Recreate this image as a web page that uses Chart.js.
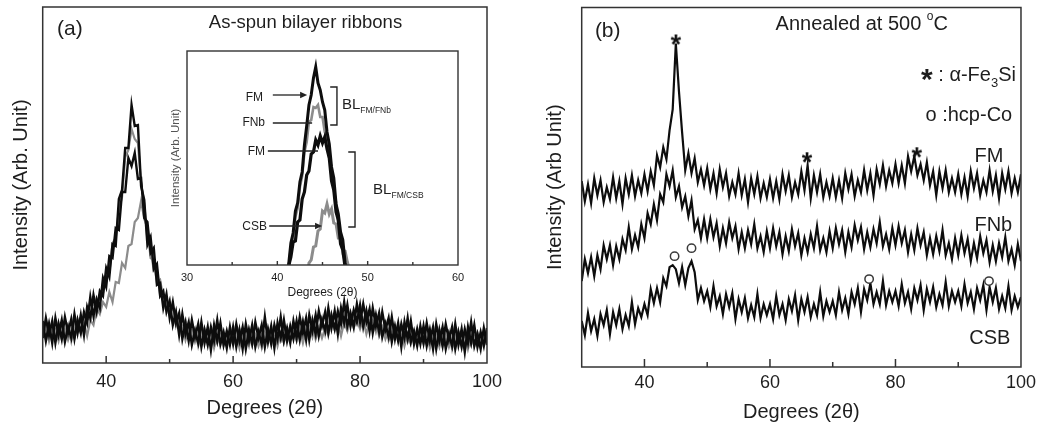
<!DOCTYPE html>
<html>
<head>
<meta charset="utf-8">
<script src="https://cdn.jsdelivr.net/npm/chart.js@4.4.1/dist/chart.umd.min.js"></script>
<style>
html,body{margin:0;padding:0;background:#fff;}
#wrap{position:relative;width:1041px;height:427px;background:#fff;overflow:hidden;}
canvas{position:absolute;display:block;}
</style>
</head>
<body>
<div id="wrap">
<canvas id="ca" width="520" height="427" style="left:0;top:0;"></canvas>
<canvas id="cb" width="521" height="427" style="left:520px;top:0;"></canvas>
<canvas id="ci" width="330" height="270" style="left:150px;top:40px;"></canvas>
</div>
<script>
// ---------- DATA (intensities in arbitrary units) ----------
const twoTheta = [30,30.5,31,31.5,32,32.5,33,33.5,34,34.5,35,35.5,36,36.5,37,37.5,38,38.5,39,39.5,
40,40.5,41,41.5,42,42.5,43,43.5,44,44.5,45,45.5,46,46.5,47,47.5,48,48.5,49,49.5,
50,50.5,51,51.5,52,52.5,53,53.5,54,54.5,55,55.5,56,56.5,57,57.5,58,58.5,59,59.5,
60,60.5,61,61.5,62,62.5,63,63.5,64,64.5,65,65.5,66,66.5,67,67.5,68,68.5,69,69.5,
70,70.5,71,71.5,72,72.5,73,73.5,74,74.5,75,75.5,76,76.5,77,77.5,78,78.5,79,79.5,
80,80.5,81,81.5,82,82.5,83,83.5,84,84.5,85,85.5,86,86.5,87,87.5,88,88.5,89,89.5,
90,90.5,91,91.5,92,92.5,93,93.5,94,94.5,95,95.5,96,96.5,97,97.5,98,98.5,99,99.5,100];

// (a) as-spun bilayer ribbons
const fmA1 = [42,22,39,20,45,28,43,21,36,25,49,30,48,28,56,45,68,51,72,67,
95,86,119,117,164,173,215,215,258,237,238,177,163,118,126,94,99,67,72,51,
62,38,51,28,49,29,41,18,32,20,41,20,36,13,38,22,40,18,32,18,
36,16,33,14,39,22,38,16,31,19,46,21,37,15,40,25,43,22,37,24,
42,23,41,23,48,32,48,27,43,32,55,35,52,29,55,40,58,37,53,41,
58,36,52,32,55,37,50,26,39,26,46,24,40,16,41,24,42,19,34,19,
37,17,33,14,39,22,36,14,29,17,39,18,34,11,36,20,38,16,31,17,35];
const fmA2 = [25,45,28,42,20,39,24,46,30,44,24,43,30,51,40,66,47,64,55,85,
76,107,105,135,133,171,171,205,197,210,184,185,145,141,110,115,78,80,55,69,
45,61,40,50,24,40,22,43,26,39,16,33,18,36,22,43,19,31,15,36,
19,39,22,36,14,33,19,41,25,38,16,34,19,38,24,46,22,35,20,42,
25,46,30,45,23,43,29,52,37,51,30,48,34,52,39,61,37,50,36,59,
41,59,41,54,30,48,31,51,33,45,21,37,22,39,25,45,21,32,17,37,
20,40,22,36,14,33,17,39,23,36,14,31,16,34,20,41,17,29,14,35,18];
const fnbA = [34,24,39,26,33,22,36,28,38,22,38,32,44,33,45,43,63,52,68,70,
89,90,120,125,153,166,206,213,234,224,220,180,159,123,115,92,94,68,68,54,
54,40,51,34,37,23,34,25,34,17,30,22,32,18,27,20,35,18,28,21,
28,18,33,20,27,17,31,23,33,16,30,23,33,20,29,23,38,23,33,27,
34,25,41,29,36,26,41,34,45,29,44,37,48,34,44,38,53,38,49,44,
50,38,52,38,43,31,43,33,41,23,35,26,36,21,30,22,37,20,30,22,
29,19,33,20,27,16,29,21,31,14,28,20,30,16,25,18,33,17,27,20,27];
const csbA = [26,37,22,35,27,39,24,34,23,33,25,39,30,40,27,43,38,55,49,61,
56,71,61,81,80,100,95,117,119,141,145,162,144,135,105,103,80,83,65,65,
50,56,37,46,34,43,25,33,21,30,21,34,23,31,15,28,18,30,20,28,
19,30,15,28,20,33,18,28,17,28,20,33,23,31,17,30,20,33,23,31,
22,34,20,33,26,39,24,35,25,35,28,42,33,41,27,41,32,45,35,43,
34,44,29,41,32,43,27,36,24,33,23,35,25,32,17,29,19,31,21,28,
19,30,15,28,20,32,17,27,16,26,18,31,21,29,14,27,17,30,20,28,19];

// (b) annealed at 500 C
const fmB = [186,166,183,164,189,172,187,165,180,168,190,169,186,163,189,173,192,171,187,174,
193,176,196,182,212,200,220,208,237,258,324,276,235,197,214,194,209,185,198,182,
199,178,194,174,198,180,194,171,185,173,194,172,188,165,189,173,191,169,184,170,
188,169,186,168,193,176,192,170,185,173,196,177,202,169,192,175,193,170,185,171,
189,170,187,169,194,178,193,171,187,175,197,177,194,172,198,183,202,181,197,184,
203,184,202,184,211,196,211,192,203,187,205,182,196,172,196,179,197,175,189,175,
193,173,190,171,196,179,194,172,187,175,197,176,192,169,194,178,196,174,189,175,193];
const fnbB = [86,108,94,110,91,112,98,122,108,122,102,121,108,128,117,140,118,132,120,143,
129,154,143,163,147,173,165,193,181,197,170,181,160,171,151,167,138,147,129,148,
129,148,130,144,121,139,124,145,129,141,118,135,119,137,123,143,119,131,115,136,
119,139,121,135,113,131,116,138,121,134,112,129,115,133,119,141,117,129,115,136,
119,139,123,137,115,135,120,142,127,140,118,135,120,138,124,145,121,133,118,139,
122,141,124,137,115,133,117,139,122,135,112,129,113,131,116,137,112,124,108,129,
112,132,114,128,106,124,109,131,114,127,105,122,106,124,110,130,106,118,102,123,106];
const csbB = [46,32,54,36,48,31,53,42,57,33,55,42,58,38,52,41,65,43,59,50,
63,52,78,64,79,65,89,81,100,102,98,84,100,82,99,106,95,67,79,66,
76,60,81,61,71,53,73,60,74,48,68,55,69,49,62,50,73,49,63,52,
63,48,71,52,63,47,68,56,72,47,68,55,70,50,63,52,75,51,66,55,
66,52,75,57,69,53,75,63,79,55,78,67,84,63,75,63,86,62,76,65,
76,61,83,64,75,58,79,67,82,57,78,65,80,60,73,62,85,61,76,65,
76,61,83,64,75,58,79,67,82,57,80,65,79,58,71,59,81,57,71,60,70];

// phase markers in (b)
const fe3SiPeaks = [45, 65.9, 83.4];
const fe3SiMarkY = [330, 212, 217];
const hcpCoPeaks = [44.8, 47.5, 75.8, 94.9];
const hcpCoMarkY = [111, 119, 88, 86];

// inset of (a): zoom on the main peak
const insetTheta = [41,41.25,41.5,41.75,42,42.25,42.5,42.75,43,43.25,43.5,43.75,44,44.25,44.5,
44.75,45,45.25,45.5,45.75,46,46.25,46.5,46.75,47,47.25,47.5,47.75,48];
const insetFM1 = [-30,0,22,32,54,62,83,93,120,139,160,170,187,198,182,175,163,155,133,121,98,87,61,51,33,25,2,-10,-30];
const insetFNb = [-30,-4,18,27,48,57,78,89,113,123,143,145,158,157,160,148,148,133,128,107,98,75,63,41,30,11,4,-12,-30];
const insetFM2 = [-30,-1,8,23,24,43,45,66,73,90,94,111,113,125,120,129,122,128,116,107,84,75,53,45,21,15,-2,-9,-30];
const insetCSB = [-30,-30,-30,-30,-30,-30,-30,-30,-30,-30,2,5,18,19,34,36,54,52,61,51,56,42,41,27,27,15,14,3,-5];

// tick labels
const mainTickLabels = [40, 60, 80, 100];
const mainMajorTicks = [40, 60, 80];
const mainMinorTicks = [50, 70, 90];
const insetTickLabels = [30, 40, 50, 60];
const insetMajorTicks = [40, 50];
const insetMinorTicks = [35, 45, 55];

// ---------- STYLE ----------
const FONT = "'Liberation Sans', Arial, Helvetica, sans-serif";
const TEXT = '#1e1e1e';
const BLACK = '#0d0d0d';
const GRAY = '#8c8c8c';
const FRAME = '#333333';

// asterisk marker glyph (like the figure's "*" symbol)
const starGlyph = (function () {
  const c = document.createElement('canvas');
  c.width = 18; c.height = 18;
  const g = c.getContext('2d');
  g.fillStyle = '#111';
  g.font = 'bold 27px ' + FONT;
  g.textAlign = 'center';
  g.textBaseline = 'alphabetic';
  g.fillText('*', 9, 9 + 0.58 * 27);
  return c;
})();

function series(xs, ys, color, width) {
  return {
    data: xs.map((x, i) => ({x: x, y: ys[i]})),
    borderColor: color, backgroundColor: color, borderWidth: width,
    pointRadius: 0, tension: 0, fill: false, clip: 0
  };
}
function markers(xs, ys, style, radius, fillColor) {
  return {
    data: xs.map((x, i) => ({x: x, y: ys[i]})),
    showLine: false, pointStyle: style, pointRadius: radius,
    borderColor: '#3a3a3a', backgroundColor: fillColor, borderWidth: 1.5, clip: false
  };
}

function baseOptions(o) {
  return {
    responsive: false, animation: false, devicePixelRatio: 1,
    layout: {padding: {left: 0, right: o.padRight, top: o.padTop, bottom: 0}},
    plugins: {legend: {display: false}, tooltip: {enabled: false}},
    scales: {
      x: {
        type: 'linear', min: o.xMin, max: o.xMax,
        afterFit: s => { s.height = o.xHeight; },
        grid: {display: false, drawTicks: false}, border: {display: false},
        ticks: {stepSize: o.xStep, autoSkip: false, maxRotation: 0, padding: o.xTickPad, color: TEXT,
                font: {family: FONT, size: o.tickSize},
                callback: v => o.xLabels.includes(v) ? String(v) : ''},
        title: {display: true, text: o.xTitle, color: TEXT, font: {family: FONT, size: o.xTitleSize},
                padding: {top: 0, bottom: o.xTitlePad}}
      },
      y: {
        type: 'linear', min: 0, max: o.yMax,
        afterFit: s => { s.width = o.yWidth; },
        grid: {display: false, drawTicks: false}, border: {display: false},
        ticks: {display: false},
        title: {display: true, text: o.yTitle, color: o.yTitleColor || TEXT, font: {family: FONT, size: o.yTitleSize},
                padding: {top: o.yTitlePad, bottom: 0}}
      }
    }
  };
}

function framePlugin(cfg) {
  return {
    id: 'frame',
    beforeDraw(chart) {
      if (!cfg.fill) return;
      const {ctx, chartArea: a} = chart;
      ctx.save();
      ctx.fillStyle = cfg.fill;
      ctx.fillRect(a.left, a.top, a.right - a.left, a.bottom - a.top);
      ctx.restore();
    },
    afterDatasetsDraw(chart) {
      const {ctx, chartArea: a, scales: {x}} = chart;
      ctx.save();
      ctx.strokeStyle = cfg.color;
      ctx.lineWidth = cfg.width;
      ctx.beginPath();
      cfg.major.forEach(v => { const p = x.getPixelForValue(v); ctx.moveTo(p, a.bottom); ctx.lineTo(p, a.bottom - cfg.majorLen); });
      cfg.minor.forEach(v => { const p = x.getPixelForValue(v); ctx.moveTo(p, a.bottom); ctx.lineTo(p, a.bottom - cfg.minorLen); });
      ctx.stroke();
      ctx.strokeRect(a.left, a.top, a.right - a.left, a.bottom - a.top);
      ctx.restore();
    }
  };
}

function drawRich(ctx, px, py, it) {
  const base = it.size;
  const parts = it.parts.map(p => {
    const s = p.size || base;
    ctx.font = (p.bold ? 'bold ' : '') + s + 'px ' + FONT;
    return Object.assign({}, p, {s: s, w: ctx.measureText(p.t).width});
  });
  const total = parts.reduce((acc, p) => acc + p.w, 0);
  let cx = it.align === 'right' ? px - total : (it.align === 'center' ? px - total / 2 : px);
  ctx.textBaseline = 'middle';
  ctx.textAlign = 'left';
  ctx.fillStyle = it.color || TEXT;
  parts.forEach(p => {
    ctx.font = (p.bold ? 'bold ' : '') + p.s + 'px ' + FONT;
    let dy = p.dy || 0;
    if (p.sub) dy += base * 0.38;
    if (p.sup) dy -= base * 0.42;
    ctx.fillText(p.t, cx, py + dy);
    cx += p.w;
  });
}

function notesPlugin(items) {
  return {
    id: 'notes',
    afterDraw(chart) {
      const {ctx, scales: {x, y}} = chart;
      ctx.save();
      items.forEach(it => {
        if (it.type === 'line') {
          const x1 = x.getPixelForValue(it.x1), x2 = x.getPixelForValue(it.x2);
          const y1 = y.getPixelForValue(it.y1), y2 = y.getPixelForValue(it.y2);
          ctx.strokeStyle = '#222'; ctx.fillStyle = '#222'; ctx.lineWidth = 1.3;
          ctx.beginPath(); ctx.moveTo(x1, y1); ctx.lineTo(it.arrow ? x2 - 5 : x2, y2); ctx.stroke();
          if (it.arrow) {
            ctx.beginPath(); ctx.moveTo(x2, y2); ctx.lineTo(x2 - 7, y2 - 3.2); ctx.lineTo(x2 - 7, y2 + 3.2); ctx.closePath(); ctx.fill();
          }
        } else if (it.type === 'bracket') {
          const bx = x.getPixelForValue(it.x), sx = x.getPixelForValue(it.serif);
          const y1 = y.getPixelForValue(it.y1), y2 = y.getPixelForValue(it.y2);
          ctx.strokeStyle = '#222'; ctx.lineWidth = 1.4;
          ctx.beginPath();
          ctx.moveTo(sx, y1); ctx.lineTo(bx, y1); ctx.lineTo(bx, y2); ctx.lineTo(sx, y2);
          ctx.stroke();
        } else {
          drawRich(ctx, x.getPixelForValue(it.x), y.getPixelForValue(it.y), it);
        }
      });
      ctx.restore();
    }
  };
}

// ---------- PANEL (a) ----------
new Chart(document.getElementById('ca'), {
  type: 'line',
  data: {datasets: [
    series(twoTheta, fmA2, BLACK, 2.4),
    series(twoTheta, fmA1, BLACK, 2.4),
    series(twoTheta, fnbA, GRAY, 2.2),
    series(twoTheta, csbA, GRAY, 2.2)
  ]},
  options: baseOptions({
    padRight: 33, padTop: 7, xMin: 30, xMax: 100, xStep: 10, xHeight: 64, xTickPad: 8, tickSize: 18,
    xLabels: mainTickLabels, xTitle: 'Degrees (2θ)', xTitleSize: 20, xTitlePad: 7,
    yMax: 356, yWidth: 42.7, yTitle: 'Intensity (Arb. Unit)', yTitleSize: 20, yTitlePad: 9
  }),
  plugins: [
    framePlugin({color: FRAME, width: 1.5, major: mainMajorTicks, minor: mainMinorTicks, majorLen: 7, minorLen: 4}),
    notesPlugin([
      {x: 32.25, y: 334, size: 21, align: 'left', parts: [{t: '(a)'}]},
      {x: 71.4, y: 340, size: 18.5, align: 'center', parts: [{t: 'As-spun bilayer ribbons'}]}
    ])
  ]
});

// ---------- INSET of (a) ----------
new Chart(document.getElementById('ci'), {
  type: 'line',
  data: {datasets: [
    series(insetTheta, insetFM1, BLACK, 3),
    series(insetTheta, insetFM2, BLACK, 3.2),
    series(insetTheta, insetFNb, GRAY, 2.6),
    series(insetTheta, insetCSB, GRAY, 3)
  ]},
  options: baseOptions({
    padRight: 22, padTop: 11, xMin: 30, xMax: 60, xStep: 5, xHeight: 45, xTickPad: 6, tickSize: 11,
    xLabels: insetTickLabels, xTitle: 'Degrees (2θ)', xTitleSize: 12, xTitlePad: 10,
    yMax: 214, yWidth: 37, yTitle: 'Intensity (Arb. Unit)', yTitleSize: 11.5, yTitlePad: 19, yTitleColor: '#555'
  }),
  plugins: [
    framePlugin({fill: '#ffffff', color: FRAME, width: 1.4, major: insetMajorTicks, minor: insetMinorTicks, majorLen: 4, minorLen: 3}),
    notesPlugin([
      {x: 38.42, y: 167, size: 12, align: 'right', parts: [{t: 'FM'}]},
      {type: 'line', x1: 39.5, y1: 170, x2: 43.3, y2: 170, arrow: true},
      {x: 38.64, y: 142, size: 12, align: 'right', parts: [{t: 'FNb'}]},
      {type: 'line', x1: 39.5, y1: 142, x2: 43.85, y2: 142},
      {x: 38.64, y: 113, size: 12, align: 'right', parts: [{t: 'FM'}]},
      {type: 'line', x1: 38.95, y1: 114, x2: 44.5, y2: 114},
      {x: 38.86, y: 38, size: 12, align: 'right', parts: [{t: 'CSB'}]},
      {type: 'line', x1: 39.1, y1: 39, x2: 44.95, y2: 39, arrow: true},
      {type: 'bracket', x: 46.6, serif: 45.85, y1: 178, y2: 140},
      {x: 47.15, y: 160, size: 15, align: 'left', parts: [{t: 'BL'}, {t: 'FM/FNb', size: 8.5, sub: true}]},
      {type: 'bracket', x: 48.6, serif: 47.85, y1: 113, y2: 38},
      {x: 50.6, y: 75, size: 15, align: 'left', parts: [{t: 'BL'}, {t: 'FM/CSB', size: 8.5, sub: true}]}
    ])
  ]
});

// ---------- PANEL (b) ----------
new Chart(document.getElementById('cb'), {
  type: 'line',
  data: {datasets: [
    markers(fe3SiPeaks, fe3SiMarkY, starGlyph, 6, BLACK),
    markers(hcpCoPeaks, hcpCoMarkY, 'circle', 4.2, '#ffffff'),
    series(twoTheta, fmB, BLACK, 2.2),
    series(twoTheta, fnbB, BLACK, 2.2),
    series(twoTheta, csbB, BLACK, 2.2)
  ]},
  options: baseOptions({
    padRight: 18, padTop: 7, xMin: 30, xMax: 100, xStep: 10, xHeight: 60, xTickPad: 5, tickSize: 18,
    xLabels: mainTickLabels, xTitle: 'Degrees (2θ)', xTitleSize: 20, xTitlePad: 3,
    yMax: 360, yWidth: 61.7, yTitle: 'Intensity (Arb Unit)', yTitleSize: 20, yTitlePad: 23
  }),
  plugins: [
    framePlugin({color: FRAME, width: 1.5, major: mainMajorTicks, minor: mainMinorTicks, majorLen: 8, minorLen: 5}),
    notesPlugin([
      {x: 32.1, y: 336, size: 21, align: 'left', parts: [{t: '(b)'}]},
      {x: 60.9, y: 342.5, size: 20, align: 'left', parts: [{t: 'Annealed at 500 '}, {t: 'o', size: 12, sup: true}, {t: 'C'}]},
      {x: 99.2, y: 292, size: 20, align: 'right', parts: [{t: '*', size: 30, bold: true, dy: 5}, {t: ' : α-Fe'}, {t: '3', size: 13, sub: true}, {t: 'Si'}]},
      {x: 98.6, y: 252, size: 20, align: 'right', parts: [{t: 'o :hcp-Co'}]},
      {x: 97.2, y: 211, size: 20, align: 'right', parts: [{t: 'FM'}]},
      {x: 98.6, y: 142, size: 20, align: 'right', parts: [{t: 'FNb'}]},
      {x: 98.3, y: 29, size: 20, align: 'right', parts: [{t: 'CSB'}]}
    ])
  ]
});
</script>
</body>
</html>
